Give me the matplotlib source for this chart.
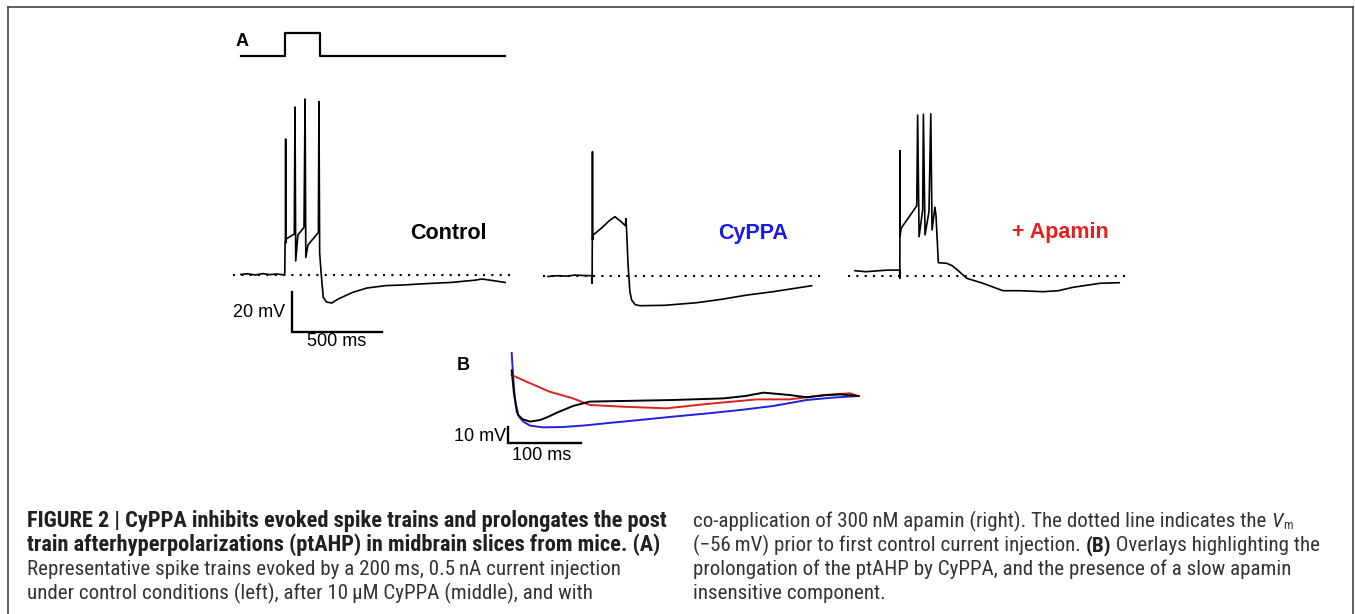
import matplotlib.pyplot as plt
from matplotlib import font_manager

W, H = 1355, 614

# current step above panel A (ms, nA)
stim_t = [0, 244, 244, 439, 439, 1467]
stim_i = [0, 0, 0.5, 0.5, 0, 0]

# panel A traces: time (ms) and Vm relative to -56 mV (mV)
ctrl_t = [0, 40, 80, 120, 160, 200, 243, 245, 247, 248, 249, 251, 296, 300, 304, 316, 350,
          356, 360, 372, 430, 433, 437, 446, 457, 475, 504, 540, 620, 700, 806, 900, 990,
          1100, 1172, 1250, 1300, 1339, 1400, 1467]
ctrl_v = [0.3, 0.6, 0.0, 0.7, 0.2, 0.5, 0.0, 16, 18, 68, 16, 18, 20.5, 84, 7, 20, 23.8,
          88, 8.8, 15, 21.3, 86.7, 11, 0, -11.2, -13.5, -14, -12, -8.7, -6.5, -5.3, -5, -4.5,
          -4, -3.7, -3, -2.6, -2.0, -2.8, -3.7]

cyppa_t = [0, 50, 100, 150, 200, 244, 245, 246, 247, 248, 250, 300, 340, 372, 400, 430,
           433, 436, 445, 455, 465, 485, 511, 650, 826, 950, 1104, 1250, 1380, 1465]
cyppa_v = [-0.4, 0.0, -0.2, 0.3, 0.1, 0.0, -3.8, 15, 62, 18, 20.3, 24, 27.5, 29.5, 27.5, 25,
           28.5, 24, 5, -8, -12.2, -14.5, -15, -14.8, -13.5, -12, -9.7, -8, -6.2, -5]

apa_t = [0, 60, 120, 180, 248, 249, 250, 251, 256, 343, 348, 356, 376, 380, 389, 411, 421,
         428, 444, 450, 463, 509, 540, 580, 621, 711, 822, 917, 1044, 1130, 1211, 1361, 1468]
apa_v = [2.5, 2.0, 2.4, 2.8, 2.8, -1.3, 62.5, 20, 23.7, 34.9, 80.3, 19.5, 32.9, 80.7, 20.4,
         32, 80.9, 22.9, 34.2, 30, 6.5, 6.2, 5, 2, -1.3, -3.8, -7.5, -7.5, -8, -7.5, -5.8,
         -3.8, -3.5]

# panel B overlays: time (ms) and Vm relative to the end level (mV)
b_blue_t = [0, 2, 4, 6.8, 10, 16, 25, 43, 70, 100, 130, 175, 221, 270, 313, 358, 404, 440,
            475]
b_blue_v = [26.9, 12, 0, -9.8, -13, -16, -18.5, -19.6, -19.4, -18.4, -17, -15, -12.9,
            -10.8, -8.75, -6.25, -2.5, -1, 0]
b_black_t = [0, 3, 6, 9, 15, 25, 39, 50, 62, 84, 107, 153, 221, 290, 320, 345, 381, 404,
             430, 450, 475]
b_black_v = [16, 2, -6, -11.9, -14.5, -16, -15, -13, -10.4, -6.25, -3.5, -3.1, -2.5, -1.5,
             0, 2.1, 0.6, -0.8, 0.5, 1, 0]
b_red_t = [0, 20.5, 52, 84, 107, 153, 212, 267, 336, 381, 427, 463, 475]
b_red_v = [13.1, 8.9, 2.7, -1.5, -5.6, -6.7, -7.7, -5, -2.1, -2.1, 0.6, 1.7, 0]

scale_a_mv, scale_a_ms = 20, 500
scale_b_mv, scale_b_ms = 10, 100

caption_left = [
    [("FIGURE 2 | CyPPA inhibits evoked spike trains and prolongates the post", "head")],
    [("train afterhyperpolarizations (ptAHP) in midbrain slices from mice. (A)", "head")],
    [("Representative spike trains evoked by a 200\u2009ms, 0.5\u2009nA current injection", "r")],
    [("under control conditions (left), after 10\u2009\u03bcM CyPPA (middle), and with", "r")],
]
caption_right = [
    [("co-application of 300\u2009nM apamin (right). The dotted line indicates the ", "r"),
     ("V", "i"), ("m", "sub")],
    [("(\u221256\u2009mV) prior to first control current injection. ", "r"), ("(B)", "b"),
     (" Overlays highlighting the", "r")],
    [("prolongation of the ptAHP by CyPPA, and the presence of a slow apamin", "r")],
    [("insensitive component.", "r")],
]

plt.rcParams["font.family"] = ["Liberation Sans", "DejaVu Sans"]

names = {f.name for f in font_manager.fontManager.ttflist}
cap_family = ["Roboto Condensed" if "Roboto Condensed" in names else "Liberation Sans",
              "DejaVu Sans"]

fig = plt.figure(figsize=(W / 100, H / 100), dpi=100)
renderer = fig.canvas.get_renderer()


def fx(x):
    return x / W


def fy(y):
    return 1 - y / H


def trace_axes(x0, y0, t_lo, t_hi, v_lo, v_hi, sx, sy):
    # (t=0, v=0) sits at pixel (x0, y0); sx, sy are px per ms and px per mV
    ax = fig.add_axes([fx(x0 + t_lo * sx), fy(y0 - v_lo * sy),
                       (t_hi - t_lo) * sx / W, (v_hi - v_lo) * sy / H])
    ax.set_xlim(t_lo, t_hi)
    ax.set_ylim(v_lo, v_hi)
    ax.axis("off")
    return ax


SX, SY = 0.18, 2.0

# stimulus
ax_s = trace_axes(241, 56, -10, 1480, -0.1, 0.6, SX, 46.6)
ax_s.plot(stim_t, stim_i, color="black", lw=1.6)
fig.text(fx(242), fy(42), "A", fontsize=13, fontweight="bold", ha="center", va="center")

dot_style = dict(color="black", lw=1.5, ls=(0, (1, 3)))
label_kw = dict(fontsize=15.5, fontweight="bold", ha="center", va="center")

# control
ax_c = trace_axes(241, 275, -60, 1530, -45, 95, SX, SY)
ax_c.plot([-44, 1511], [0, 0], **dot_style)
ax_c.plot(ctrl_t, ctrl_v, color="black", lw=1.2)
ax_c.text(1152, 21, "Control", color="black", **label_kw)
bar_t, bar_v = 281.7, -28.7
ax_c.plot([bar_t, bar_t, bar_t + scale_a_ms], [bar_v + scale_a_mv, bar_v, bar_v],
          color="black", lw=1.7, solid_joinstyle="miter")
ax_c.text(bar_t - 37, bar_v + scale_a_mv / 2, f"{scale_a_mv} mV", fontsize=13,
          ha="right", va="center")
ax_c.text(bar_t + 252, bar_v - 4.6, f"{scale_a_ms} ms", fontsize=13, ha="center",
          va="center")

# CyPPA
ax_p = trace_axes(548, 275.7, -60, 1530, -45, 95, SX, SY)
ax_p.plot([-28, 1528], [0, 0], **dot_style)
ax_p.plot(cyppa_t, cyppa_v, color="black", lw=1.2)
ax_p.text(1139, 21.3, "CyPPA", color="#1a1ae6", **label_kw)

# + apamin
ax_a = trace_axes(855, 275.7, -60, 1530, -45, 95, SX, SY)
ax_a.plot([-39, 1511], [0, 0], **dot_style)
ax_a.plot(apa_t, apa_v, color="black", lw=1.2)
ax_a.text(1139, 21.8, "+ Apamin", color="#e61e1e", **label_kw)

# panel B
ax_b = trace_axes(511.7, 396, -10, 490, -40, 30, 0.73, 1.6)
ax_b.plot(b_blue_t, b_blue_v, color="#2020e0", lw=1.4)
ax_b.plot(b_red_t, b_red_v, color="#e02020", lw=1.4)
ax_b.plot(b_black_t, b_black_v, color="black", lw=1.4)
bt, bv = -4.7, -29.6
ax_b.plot([bt, bt, bt + scale_b_ms], [bv + scale_b_mv, bv, bv], color="black", lw=1.7,
          solid_joinstyle="miter")
ax_b.text(bt - 2.5, bv + 4.2, f"{scale_b_mv} mV", fontsize=13, ha="right", va="center")
ax_b.text(bt + 46, bv - 7.3, f"{scale_b_ms} ms", fontsize=13, ha="center", va="center")
fig.text(fx(463), fy(366), "B", fontsize=13, fontweight="bold", ha="center", va="center")

# frame
for xs, ys in [([8, 1353], [7, 7]), ([8, 8], [7, 614]), ([1353, 1353], [7, 614])]:
    fig.add_artist(plt.Line2D([fx(x) for x in xs], [fy(y) for y in ys], color="#444444",
                              lw=1.2, transform=fig.transFigure))


# caption, sized so the first line spans the left column
def text_width(s, **kw):
    t = fig.text(0, 0, s, **kw)
    w = t.get_window_extent(renderer).width
    t.remove()
    return w


head_size = 12 * 641 / text_width(caption_left[0][0][0], fontsize=12, fontweight="bold",
                                   family=cap_family)
body_size = head_size * 0.94


def seg_props(kind):
    props = dict(family=cap_family, fontsize=body_size, color="#333333")
    if kind == "head":
        props.update(fontsize=head_size, fontweight="bold", color="#231f20")
    elif kind == "b":
        props.update(fontweight="bold", color="#231f20")
    elif kind == "i":
        props.update(style="italic")
    elif kind == "sub":
        props.update(fontsize=body_size * 0.6)
    return props


def caption_line(x, yb, segments):
    for s, kind in segments:
        props = seg_props(kind)
        rise = -2 if kind == "sub" else 0
        fig.text(fx(x), fy(yb - rise), s, va="baseline", **props)
        # advance measured between two sentinels so edge spaces count
        x += text_width("x" + s + "x", **props) - text_width("xx", **props)


baselines = [527, 551, 575, 599]
for segs, yb in zip(caption_left, baselines):
    caption_line(27, yb, segs)
for segs, yb in zip(caption_right, baselines):
    caption_line(693, yb, segs)

fig.savefig("out.png", dpi=100)
